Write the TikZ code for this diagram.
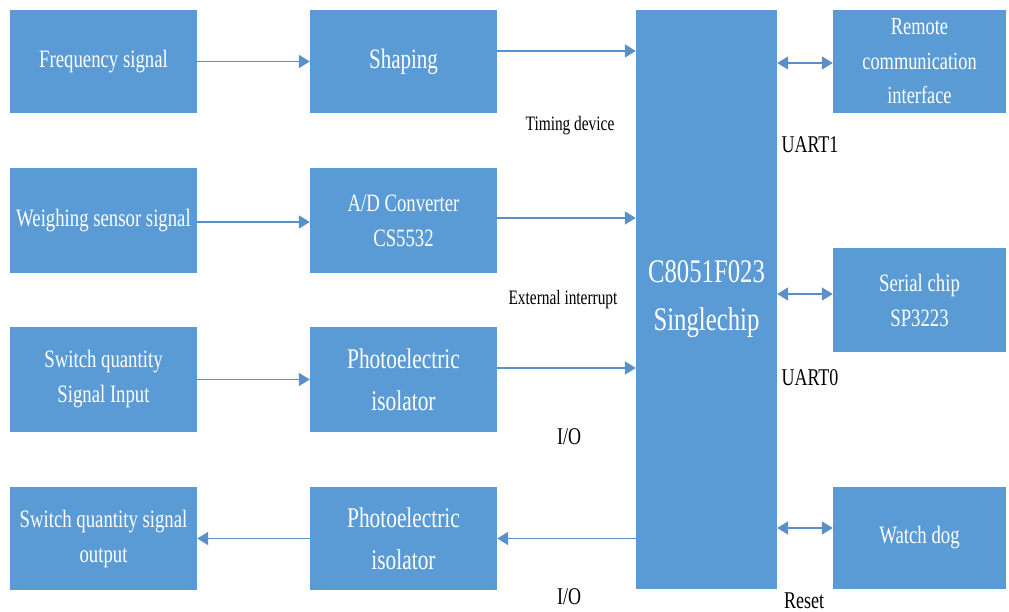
\documentclass[tikz,border=0pt]{standalone}
\usepackage{fontspec}
\setmainfont{Liberation Serif}[FakeStretch=0.75]
\usetikzlibrary{arrows.meta,calc}
\definecolor{boxblue}{HTML}{5B9BD5}
\definecolor{arrblue}{HTML}{5A8FC8}
\tikzset{
  blk/.style={fill=boxblue, draw=none, text=white, align=center, inner sep=0pt,
    minimum width=187pt, minimum height=104pt, font=\fontsize{25}{35}\selectfont},
  arr/.style={draw=arrblue, line width=1.8pt, -{Triangle[length=11pt,width=13pt]}},
  barr/.style={draw=arrblue, line width=1.8pt, {Triangle[length=11pt,width=13pt]}-{Triangle[length=11pt,width=13pt]}},
  lbl/.style={text=black, inner sep=0pt, font=\fontsize{24}{28}\selectfont},
  slbl/.style={text=black, inner sep=0pt, font=\fontsize{20.5}{24}\selectfont}
}
\begin{document}
\begin{tikzpicture}[x=1pt,y=-1pt]
\useasboundingbox (0,0) rectangle (1009,612);
% left column
\node[blk, minimum height=103pt] (freq) at (103.5,61.5) {Frequency signal};
\node[blk, minimum height=105pt] (weigh) at (103.5,220.5) {Weighing sensor signal};
\node[blk, minimum height=105pt] (swin) at (103.5,379.5) {Switch quantity\\Signal Input};
\node[blk, minimum height=103pt] (swout) at (103.5,538.5) {Switch quantity signal\\output};
% middle column
\node[blk, minimum height=103pt, font=\fontsize{28}{38}\selectfont] (shaping) at (403.5,61.5) {Shaping};
\node[blk, minimum height=105pt] (adc) at (403.5,220.5) {A/D Converter\\CS5532};
\node[blk, minimum height=105pt, font=\fontsize{28.5}{42}\selectfont] (photo1) at (403.5,379.5) {Photoelectric\\isolator};
\node[blk, minimum height=103pt, font=\fontsize{28.5}{42}\selectfont] (photo2) at (403.5,538.5) {Photoelectric\\isolator};
% MCU
\node[blk, minimum width=141pt, minimum height=579pt, font=\fontsize{33}{48}\selectfont] (mcu) at (706.5,299.5) {C8051F023\\Singlechip};
% right column
\node[blk, minimum width=173pt, minimum height=103pt, font=\fontsize{24.5}{34.5}\selectfont] (remote) at (919.5,61.5) {Remote\\communication\\interface};
\node[blk, minimum width=173pt, minimum height=104pt] (serial) at (919.5,300) {Serial chip\\SP3223};
\node[blk, minimum width=173pt, minimum height=102pt] (watch) at (919.5,538) {Watch dog};
% connectors
\draw[arr] (freq.east) -- (shaping.west);
\draw[arr] ([yshift=-1.5pt]weigh.east) -- ([yshift=-1.5pt]adc.west);
\draw[arr] (swin.east) -- (swin.east -| photo1.west);
\draw[arr] ([yshift=11.5pt]photo1.east) -- ([yshift=11.5pt]photo1.east -| mcu.west);
\draw[arr] ([yshift=10.5pt]shaping.east) -- ([yshift=10.5pt]shaping.east -| mcu.west);
\draw[arr] ([yshift=2.5pt]adc.east) -- ([yshift=2.5pt]adc.east -| mcu.west);
\draw[arr] (photo2.east -| mcu.west) -- (photo2.east);
\draw[arr] (photo2.west) -- (swout.east);
\draw[barr] ([yshift=-1.5pt]remote.west -| mcu.east) -- ([yshift=-1.5pt]remote.west);
\draw[barr] ([yshift=6pt]serial.west -| mcu.east) -- ([yshift=6pt]serial.west);
\draw[barr] ([yshift=10pt]watch.west -| mcu.east) -- ([yshift=10pt]watch.west);
% labels
\node[slbl] (ltim) at (570,126) {Timing device};
\node[slbl] (lext) at (563,300) {External interrupt};
\node[lbl] (lio1) at (569,437) {I/O};
\node[lbl] (lio2) at (569,597) {I/O};
\node[lbl] (lu1) at (810,145) {UART1};
\node[lbl] (lu0) at (810,378) {UART0};
\node[lbl] (lrst) at (804,601) {Reset};
\end{tikzpicture}
\end{document}
